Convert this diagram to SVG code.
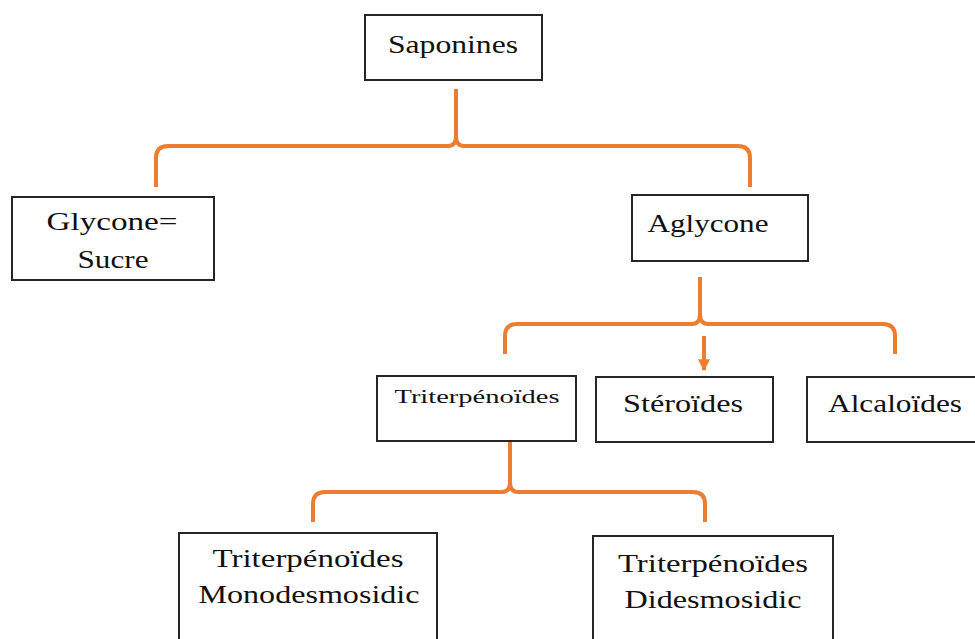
<svg xmlns="http://www.w3.org/2000/svg" width="975" height="639" viewBox="0 0 975 639">
<style>
.box{fill:#fff;stroke:#262626;stroke-width:2}
.t{font-family:"Liberation Serif","DejaVu Serif",serif;font-size:25px;fill:#111;text-anchor:middle}
.s{font-size:19px}
.c{fill:none;stroke:#ED7D31;stroke-width:4;stroke-linecap:butt;stroke-linejoin:round}
</style>
<defs>
<marker id="ah" viewBox="0 0 10 10" refX="9" refY="5" markerWidth="3" markerHeight="3" orient="auto" markerUnits="strokeWidth">
<path d="M0,0 L10,5 L0,10 Z" fill="#ED7D31"/>
</marker>
</defs>
<rect width="975" height="639" fill="#fff"/>
<g id="connectors">
<path class="c" d="M156,187 V158 Q156,146 168,146 H448 Q456,146 456,136 V89 M456,136 Q456,146 464,146 H738 Q750,146 750,158 V187"/>
<path class="c" d="M505,354 V336 Q505,324 517,324 H692 Q700,324 700,314 V277 M700,314 Q700,324 708,324 H883 Q895,324 895,336 V354"/>
<path class="c" d="M704,336 V370" marker-end="url(#ah)"/>
<path class="c" d="M313,522 V504 Q313,492 325,492 H502 Q510,492 510,482 V441 M510,482 Q510,492 518,492 H693 Q705,492 705,504 V522"/>
</g>
<g id="saponines"><rect class="box" x="365" y="15" width="177" height="65"/><text class="t" x="453" y="53" textLength="130" lengthAdjust="spacingAndGlyphs">Saponines</text></g>
<g id="glycone"><rect class="box" x="12" y="197" width="202" height="83"/><text class="t" x="112" y="230" textLength="131" lengthAdjust="spacingAndGlyphs">Glycone=</text><text class="t" x="113" y="268" textLength="71" lengthAdjust="spacingAndGlyphs">Sucre</text></g>
<g id="aglycone"><rect class="box" x="632" y="195" width="176" height="66"/><text class="t" x="708" y="232" textLength="121" lengthAdjust="spacingAndGlyphs">Aglycone</text></g>
<g id="triterpenoides"><rect class="box" x="377" y="376" width="199" height="65"/><text class="t s" x="477" y="403" textLength="165" lengthAdjust="spacingAndGlyphs">Triterpénoïdes</text></g>
<g id="steroides"><rect class="box" x="596" y="377" width="177" height="65"/><text class="t" x="683" y="412" textLength="120" lengthAdjust="spacingAndGlyphs">Stéroïdes</text></g>
<g id="alcaloides"><rect class="box" x="807" y="377" width="180" height="65"/><text class="t" x="895" y="412" textLength="134" lengthAdjust="spacingAndGlyphs">Alcaloïdes</text></g>
<g id="monodesmosidic"><rect class="box" x="179" y="533" width="258" height="120"/><text class="t" x="308" y="567" textLength="191" lengthAdjust="spacingAndGlyphs">Triterpénoïdes</text><text class="t" x="309" y="603" textLength="221" lengthAdjust="spacingAndGlyphs">Monodesmosidic</text></g>
<g id="didesmosidic"><rect class="box" x="593" y="536" width="240" height="120"/><text class="t" x="713" y="572" textLength="190" lengthAdjust="spacingAndGlyphs">Triterpénoïdes</text><text class="t" x="713" y="608" textLength="177" lengthAdjust="spacingAndGlyphs">Didesmosidic</text></g>
</svg>
